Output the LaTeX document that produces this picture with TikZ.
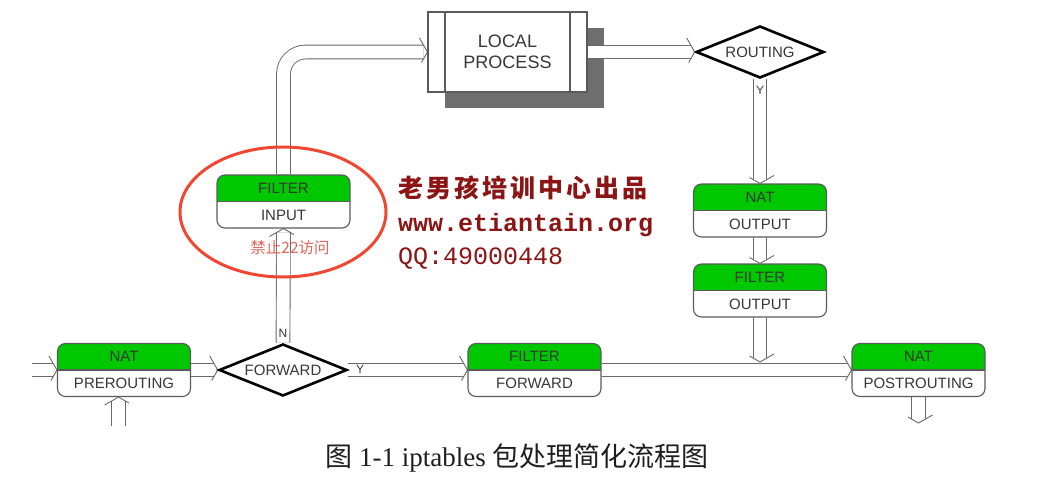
\documentclass[tikz,border=0pt]{standalone}
\usepackage{fontspec}
\setmainfont{Liberation Serif}
\setsansfont{Liberation Sans}
\setmonofont{Liberation Mono}
\newfontfamily\cjk{Noto Sans CJK SC}
\newfontfamily\cjkwide[LetterSpace=12]{Noto Sans CJK SC}
\usetikzlibrary{arrows.meta,shapes.geometric,shadows,decorations.markings}
\pgfdeclarelayer{bg}
\pgfsetlayers{bg,main}
\definecolor{boxgreen}{RGB}{0,200,0}
\definecolor{boxline}{RGB}{90,90,90}
\definecolor{txtgray}{RGB}{55,55,55}
\definecolor{arrline}{RGB}{105,105,105}
\definecolor{wmred}{RGB}{140,20,20}
\definecolor{ringred}{RGB}{240,70,50}
\definecolor{notered}{RGB}{225,100,90}
\definecolor{shadowgray}{RGB}{110,110,110}
\definecolor{captxt}{RGB}{30,30,30}
\newcommand\chainbox[4]{%
  \node[tbox] (#1) at (#2) {};
  \node[ttxt] (#1-t) at ([yshift=13.5pt]#1.center) {#3};
  \node[ttxt] (#1-b) at ([yshift=-13.5pt]#1.center) {#4};}
\begin{document}
\begin{tikzpicture}[x=1pt,y=-1pt,
  tbox/.style={rectangle, rounded corners=8pt, minimum width=133pt, minimum height=53pt,
    inner sep=0pt, draw=boxline, fill=white, line width=1.1pt,
    path picture={\fill[boxgreen, sharp corners] (path picture bounding box.north west) rectangle (path picture bounding box.east);
      \draw[boxline, line width=1.1pt, sharp corners] (path picture bounding box.west) -- (path picture bounding box.east);}},
  ttxt/.style={font=\sffamily\fontsize{15}{15}\selectfont, text=txtgray, inner sep=0pt},
  dia/.style={diamond, shape aspect=2.5, draw=black, fill=white, line width=2.6pt, minimum width=128pt, minimum height=52pt,
    inner sep=0pt, font=\sffamily\fontsize{15}{15}\selectfont, text=txtgray},
  pipe/.style={draw=arrline, line width=14.7pt, shorten >=4pt,
    postaction={draw=white, line width=12.9pt, shorten >=4pt},
    postaction={decorate, decoration={markings, mark=at position 1 with
      {\draw[arrline, line width=0.9pt, line join=miter, sharp corners] (-8pt,14pt) -- (0pt,0pt) -- (-8pt,-14pt);}}}},
  lbl/.style={font=\sffamily\fontsize{12}{12}\selectfont, text=txtgray, inner sep=0pt},
  wm/.style={text=wmred, inner sep=0pt, anchor=base west},
]
\useasboundingbox (0,0) rectangle (1058,482);

% boxes
\chainbox{np}{124,370}{NAT}{PREROUTING}
\chainbox{fi}{283.5,201.5}{FILTER}{INPUT}
\chainbox{no}{760,210.5}{NAT}{OUTPUT}
\chainbox{fo}{760,290.5}{FILTER}{OUTPUT}
\chainbox{ff}{534.5,370}{FILTER}{FORWARD}
\chainbox{pr}{918.5,370}{NAT}{POSTROUTING}

% decisions
\node[dia] (fw) at (283,370) {FORWARD};
\node[dia] (ro) at (760,52) {ROUTING};

% local process
\node[rectangle, draw=boxline, fill=white, line width=1.1pt, minimum width=159pt, minimum height=80pt,
  general shadow={fill=shadowgray, shadow xshift=16.5pt, shadow yshift=-16pt},
  align=center, font=\sffamily\fontsize{18}{21}\selectfont, text=txtgray,
  path picture={\draw[boxline, line width=1.1pt] ([xshift=17pt]path picture bounding box.north west) -- ([xshift=17pt]path picture bounding box.south west);
    \draw[boxline, line width=1.1pt] ([xshift=-17pt]path picture bounding box.north east) -- ([xshift=-17pt]path picture bounding box.south east);}]
  (lp) at (507.5,52) {LOCAL\\PROCESS};

% free ends
\coordinate (inL) at (32,370);
\coordinate (inB) at (118.5,426);
\coordinate (outB) at (918.5,423);
\coordinate (join) at (760,362);

% connectors
\begin{pgfonlayer}{bg}
\draw[pipe] (inL) -- (np.west);
\draw[pipe] (inB) -- (inB |- np.south);
\draw[pipe] (np.east) -- (fw.west);
\draw[pipe] (fw.north) -- (fi.south);
\draw[pipe, rounded corners=22pt] (fi.north) |- (lp.west);
\draw[pipe] (ro.south) -- (no.north);
\draw[pipe] (no.south) -- (fo.north);
\draw[pipe] (fw.east) -- (ff.west);
\draw[pipe] (ff.east) -- (pr.west);
\draw[pipe] (outB |- pr.south) -- (outB);
\end{pgfonlayer}
\draw[pipe] (fo.south) -- (join);
\draw[pipe] (lp.east) -- (ro.west);

% branch labels
\node[lbl] (lN) at (283,333) {N};
\node[lbl] (lY1) at (360,369) {Y};
\node[lbl] (lY2) at (760,90) {Y};

% red ring and note
\node[ellipse, draw=ringred, line width=3pt, minimum width=206pt, minimum height=130pt] (ring) at (283,212) {};
\node[text=notered, inner sep=0pt, font=\cjk\fontsize{15.5}{15.5}\selectfont] (note) at (290,248) {禁止22访问};

% watermark
\node[wm, font=\cjkwide\bfseries\fontsize{25}{25}\selectfont] (wm1) at (398,197) {老男孩培训中心出品};
\node[wm, font=\ttfamily\bfseries\fontsize{25}{25}\selectfont] (wm2) at (398,231) {www.etiantain.org};
\node[wm, font=\ttfamily\fontsize{25}{25}\selectfont] (wm3) at (398,264) {QQ:49000448};

% caption
\node[text=captxt, inner sep=0pt, anchor=base, font=\fontsize{27}{27}\selectfont] (cap) at (517,466)
  {{\cjk 图} 1-1 iptables {\cjk 包处理简化流程图}};
\end{tikzpicture}
\end{document}
